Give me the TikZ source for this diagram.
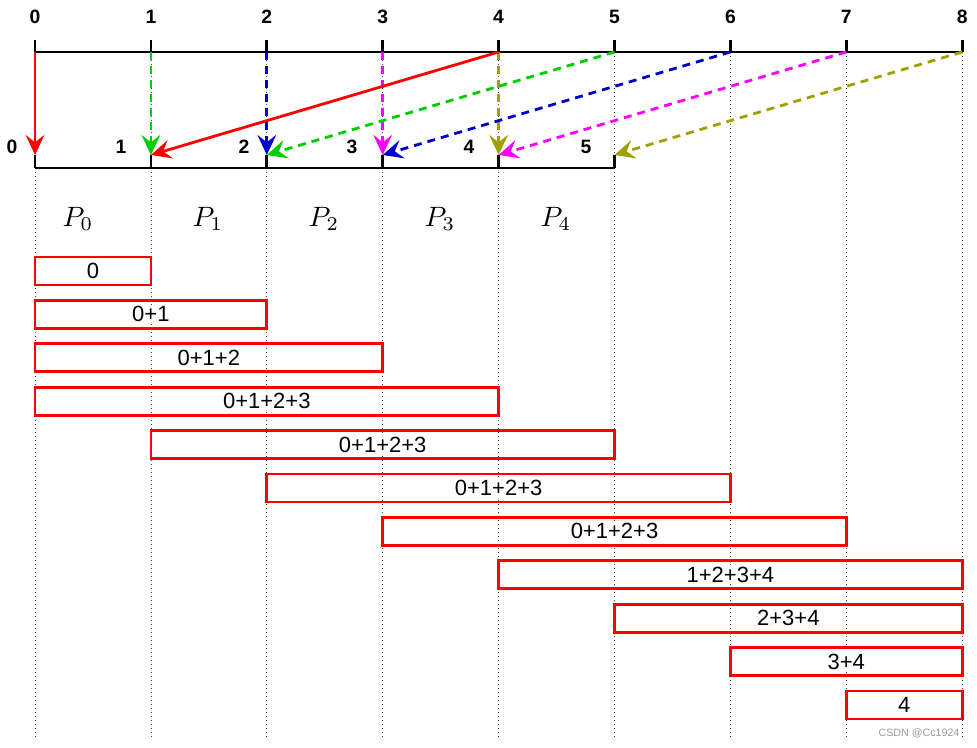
\documentclass[tikz,border=0pt]{standalone}
\usepackage{fontspec}
\setmainfont{Liberation Sans}
\usetikzlibrary{arrows.meta}
\definecolor{cgreen}{RGB}{0,205,0}
\definecolor{cblue}{RGB}{0,0,200}
\definecolor{cmag}{RGB}{255,0,255}
\definecolor{colive}{RGB}{160,160,0}
\begin{document}
\begin{tikzpicture}[x=0.75pt,y=-0.75pt,
  axis/.style={line width=2pt,black},
  gridl/.style={dash pattern=on 0.8pt off 2.2pt,line width=0.6pt,black!75},
  lbl/.style={font=\bfseries\fontsize{14.5}{16}\selectfont,inner sep=0pt},
  arr/.style={line width=2.1pt,-{Stealth[length=15pt,width=14pt,inset=5.5pt]}},
  dsh/.style={arr,dash pattern=on 6pt off 4.5pt},
  box/.style={draw=red,line width=2pt},
  txt/.style={fill=white,inner sep=1pt,font=\fontsize{16.5}{18}\selectfont},
  plbl/.style={inner sep=0pt}]
\useasboundingbox (0,0) rectangle (977,748);
% coordinates
\foreach \i in {0,...,8}{
  \coordinate (t\i) at ({35+115.9*\i},52);
  \coordinate (tt\i) at ({35+115.9*\i},40);
  \coordinate (g\i) at ({35+115.9*\i},740);
}
\foreach \i in {0,...,5}{
  \coordinate (b\i) at ({35+115.9*\i},168);
  \coordinate (e\i) at ({35+115.9*\i},155);
}
% grid
\foreach \i in {0,...,8}{ \draw[gridl] (t\i) -- (g\i); }
% top axis
\draw[axis] (t0) -- (t8);
\foreach \i in {0,...,8}{
  \draw[axis] (t\i) -- (tt\i);
  \node[lbl] (tl\i) at ({35+115.9*\i},17) {\i};
}
% bottom axis
\draw[axis] (b0) -- (b5);
\foreach \i in {0,...,5}{ \draw[axis] (b\i) -- (e\i); }
\node[lbl] (bl0) at (12,147) {0};
\node[lbl] (bl1) at (121,147) {1};
\node[lbl] (bl2) at (244,147) {2};
\node[lbl] (bl3) at (352,147) {3};
\node[lbl] (bl4) at (469,147) {4};
\node[lbl] (bl5) at (586,147) {5};
% arrows
\draw[arr,red] (t0) -- (e0);
\draw[dsh,cgreen] (t1) -- (e1);
\draw[dsh,cblue] (t2) -- (e2);
\draw[dsh,cmag] (t3) -- (e3);
\draw[dsh,colive] (t4) -- (e4);
\draw[arr,red] (t4) -- (e1);
\draw[dsh,cgreen] (t5) -- (e2);
\draw[dsh,cblue] (t6) -- (e3);
\draw[dsh,cmag] (t7) -- (e4);
\draw[dsh,colive] (t8) -- (e5);
% P labels
\node[plbl] (p0) at (78,219) {\scalebox{2.1}{$P_0$}};
\node[plbl] (p1) at (208,219) {\scalebox{2.1}{$P_1$}};
\node[plbl] (p2) at (324,219) {\scalebox{2.1}{$P_2$}};
\node[plbl] (p3) at (440,219) {\scalebox{2.1}{$P_3$}};
\node[plbl] (p4) at (556,219) {\scalebox{2.1}{$P_4$}};
% boxes
\foreach \i/\a/\b/\t in {0/0/1/0, 1/0/2/0+1, 2/0/3/0+1+2, 3/0/4/0+1+2+3, 4/1/5/0+1+2+3, 5/2/6/0+1+2+3, 6/3/7/0+1+2+3, 7/4/8/1+2+3+4, 8/5/8/2+3+4, 9/6/8/3+4, 10/7/8/4}{
  \pgfmathsetmacro\yy{257+43.4*\i}
  \draw[box] ({35+115.9*\a},\yy) rectangle ({35+115.9*\b},\yy+28);
  \node[txt] (s\i) at ({35+115.9*(\a+\b)/2},\yy+14) {\t};
}
\node[font=\fontsize{8}{9}\selectfont,text=black!40,inner sep=0pt] (wm) at (919,733) {CSDN @Cc1924};
\end{tikzpicture}
\end{document}
